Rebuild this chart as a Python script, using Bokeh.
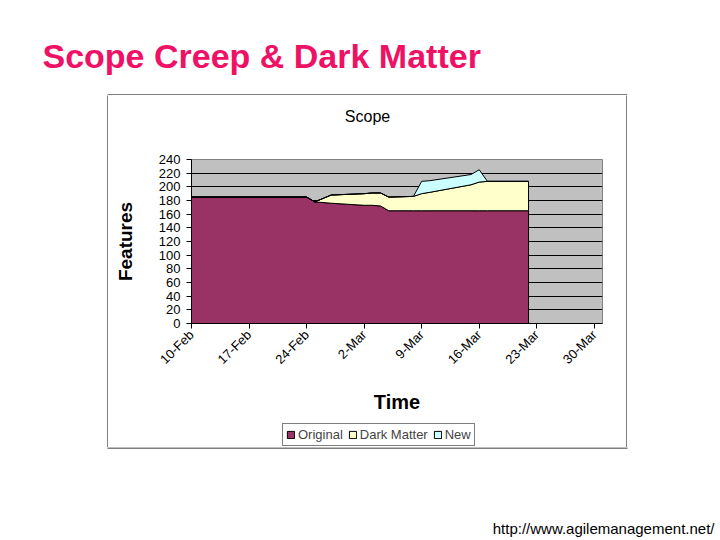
import math
from bokeh.plotting import figure
from bokeh.layouts import column, row
from bokeh.models import (FixedTicker, Range1d, Label, Legend, LegendItem, Spacer, BoxAnnotation)
from bokeh.embed import file_html
from bokeh.resources import INLINE

# ---- data (days after 10-Feb-2004) ----
days     = [0,   14,  15,  17,  21,  22,  23,  24,  27,  28,  29,  34,  35,  36,  41]
original = [185, 185, 178, 176, 173, 173, 172, 165, 165, 165, 165, 165, 165, 165, 165]
dark     = [0,   0,   0,   12,  17,  18,  19,  20,  21,  25,  27,  38,  42,  43,  43]
new      = [0,   0,   0,   0,   0,   0,   0,   0,   0,   18,  17,  15,  18,  0,   0]

tick_days = [0, 7, 14, 21, 28, 35, 42, 49]
tick_labels = ["10-Feb", "17-Feb", "24-Feb", "2-Mar", "9-Mar", "16-Mar", "23-Mar", "30-Mar"]
y_ticks = [0, 20, 40, 60, 80, 100, 120, 140, 160, 180, 200, 220, 240]

series_names = ["Original", "Dark Matter", "New"]
series_colors = ["#993366", "#FFFFCC", "#CCFFFF"]

FONT = "Liberation Sans"
PAGE_W = 716
BOX_X = 107          # left edge of chart box
BOX_W = 520          # chart box width incl. border
INNER_W = BOX_W - 2
INNER_H = 352
TOP_H = 95
BOT_H = 91
LB, RB = 83, 24      # chart borders left / right (frame 191..602)
SCOPE_H = 55
CHART_TB, CHART_BB = 9, 94
LEG_H = INNER_H - SCOPE_H - (CHART_TB + 164 + CHART_BB)


def blank(w, h, bg="white", left=0, right=0):
    f = figure(width=w, height=h, output_backend="svg", toolbar_location=None,
               x_axis_type=None, y_axis_type=None, min_border=0,
               min_border_left=left, min_border_right=right,
               x_range=Range1d(0, 1), y_range=Range1d(0, 1))
    f.outline_line_color = None
    f.background_fill_color = bg
    f.border_fill_color = bg
    return f


# stacked polygons built from the data
polys = []
bottoms = [0] * len(days)
for vals in (original, dark, new):
    tops = [b + v for b, v in zip(bottoms, vals)]
    polys.append((list(days) + list(reversed(days)), tops + list(reversed(bottoms))))
    bottoms = tops

# ---------------- slide title strip (with chart-box top edge) ----------------
top = blank(PAGE_W, TOP_H)
top.add_layout(Label(x=42, y=TOP_H - 55, x_units="screen", y_units="screen",
                     text="Scope Creep & Dark Matter",
                     text_align="left", text_baseline="alphabetic",
                     text_font=FONT, text_font_style="bold", text_font_size="34px",
                     text_color="#EE1166"))
top.add_layout(BoxAnnotation(left=BOX_X, right=BOX_X + BOX_W, bottom=0, top=1,
                             left_units="screen", right_units="screen",
                             bottom_units="screen", top_units="screen",
                             fill_color="black", fill_alpha=1, line_color=None))

# ---------------- chart title strip ----------------
scope_fig = blank(INNER_W, SCOPE_H, left=LB, right=RB)
scope_fig.add_layout(Label(x=176, y=34, x_units="screen", y_units="screen", text="Scope",
                           text_align="center", text_baseline="middle",
                           text_font=FONT, text_font_size="16px", text_color="black"))

# ---------------- chart ----------------
p = figure(width=INNER_W, height=CHART_TB + 164 + CHART_BB, output_backend="svg",
           toolbar_location=None,
           x_range=Range1d(0, 50), y_range=Range1d(0, 240),
           min_border_left=LB, min_border_right=RB,
           min_border_top=CHART_TB, min_border_bottom=CHART_BB)
p.background_fill_color = "#C0C0C0"
p.border_fill_color = "white"
p.outline_line_color = "#808080"
p.outline_line_width = 1

for (xs, ys), col in zip(polys, series_colors):
    p.patch(xs, ys, fill_color=col, line_color="black", line_width=1)

p.xgrid.visible = False
p.ygrid.grid_line_color = "black"
p.ygrid.grid_line_width = 1
p.yaxis.ticker = FixedTicker(ticks=y_ticks)
p.xaxis.ticker = FixedTicker(ticks=tick_days)
p.xaxis.major_label_overrides = {d: l for d, l in zip(tick_days, tick_labels)}
p.xaxis.major_label_orientation = math.pi / 4
for ax in (p.xaxis[0], p.yaxis[0]):
    ax.axis_line_color = "black"
    ax.major_tick_line_color = "black"
    ax.major_tick_in = 0
    ax.major_tick_out = 5
    ax.minor_tick_line_color = None
    ax.major_label_text_font = FONT
    ax.major_label_text_font_size = "13px"
    ax.major_label_text_color = "black"
    ax.axis_label_text_font = FONT
    ax.axis_label_text_font_style = "bold"
    ax.axis_label_text_color = "black"
p.yaxis.major_label_standoff = 6
p.xaxis.major_label_standoff = 4
p.yaxis.axis_label = "Features"
p.yaxis.axis_label_text_font_size = "19px"
p.yaxis.axis_label_standoff = 20
p.xaxis.axis_label = "Time"
p.xaxis.axis_label_text_font_size = "20px"
p.xaxis.axis_label_standoff = 16

# ---------------- legend strip ----------------
leg_fig = blank(INNER_W, LEG_H, left=LB, right=RB)
leg_fig.x_range = Range1d(-3, -2)   # series polygons lie outside: only swatches show
leg_items = []
for (xs, ys), name, col in zip(polys, series_names, series_colors):
    r = leg_fig.patch(xs, ys, fill_color=col, line_color="black", line_width=1)
    leg_items.append(LegendItem(label=name, renderers=[r]))
legend = Legend(items=leg_items, orientation="horizontal", location=(91, 1))
legend.label_text_font = FONT
legend.label_text_font_size = "13px"
legend.glyph_width = 9
legend.glyph_height = 9
legend.label_standoff = 3
legend.spacing = 5
legend.padding = 3
legend.margin = 0
legend.label_height = 15
legend.border_line_color = "black"
legend.border_line_width = 1
legend.background_fill_color = "white"
legend.background_fill_alpha = 1
leg_fig.add_layout(legend)

inner = column(scope_fig, p, leg_fig)
box_row = row(Spacer(width=BOX_X, height=INNER_H), blank(1, INNER_H, "black"), inner,
              blank(1, INNER_H, "black"), Spacer(width=PAGE_W - BOX_X - BOX_W, height=INNER_H))

# ---------------- footer strip (with chart-box bottom edge) ----------------
bot = blank(PAGE_W, BOT_H)
bot.add_layout(BoxAnnotation(left=BOX_X, right=BOX_X + BOX_W, bottom=BOT_H - 1, top=BOT_H,
                             left_units="screen", right_units="screen",
                             bottom_units="screen", top_units="screen",
                             fill_color="black", fill_alpha=1, line_color=None))
bot.add_layout(Label(x=PAGE_W - 2, y=10, x_units="screen", y_units="screen",
                     text="http://www.agilemanagement.net/",
                     text_align="right", text_baseline="alphabetic",
                     text_font=FONT, text_font_size="15px", text_color="black"))

page = column(top, box_row, bot)
open("out.html", "w").write(file_html(page, INLINE))
